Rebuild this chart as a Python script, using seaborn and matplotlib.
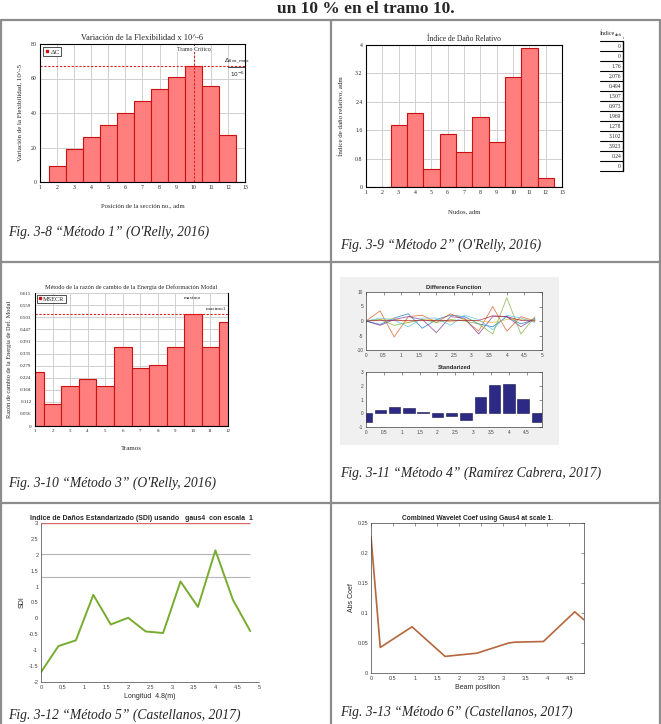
import matplotlib
matplotlib.use("Agg")
import matplotlib.pyplot as plt
import seaborn as sns
import pandas as pd
from matplotlib.lines import Line2D
from matplotlib.patches import Rectangle

# ---------------- data ----------------
flex_pos = [1, 2, 3, 4, 5, 6, 7, 8, 9, 10, 11, 12, 13]
flex_val = [0, 9.5, 19, 26, 33, 40, 47, 54, 61, 67, 55.5, 27, 0]
flex_max = 67
flex_crit = 10

dano_nodes = [1, 2, 3, 4, 5, 6, 7, 8, 9, 10, 11, 12, 13]
dano_val = [0, 0, 1.76, 2.076, 0.494, 1.507, 0.973, 1.969, 1.278, 3.102, 3.923, 0.24, 0]
dano_labels = ["0", "0", "1.76", "2.076", "0.494", "1.507", "0.973", "1.969",
               "1.278", "3.102", "3.923", "0.24", "0"]
dano_yticks = [0, 0.8, 1.6, 2.4, 3.2, 4]

msecr_tramos = [1, 2, 3, 4, 5, 6, 7, 8, 9, 10, 11, 12]
msecr_val = [0.251, 0.102, 0.186, 0.219, 0.186, 0.365, 0.270, 0.281, 0.367, 0.518, 0.367, 0.482]
msecr_yticks = [0, 0.056, 0.112, 0.168, 0.224, 0.279, 0.335, 0.391, 0.447, 0.503, 0.559, 0.615]
msecr_max = 0.518

diff_x = [0, 0.4, 0.8, 1.2, 1.6, 2.0, 2.4, 2.8, 3.2, 3.6, 4.0, 4.4, 4.8]
diff_s1 = [0, -1.2, 1.0, 2.5, -2.5, 0.5, 2.0, 1.5, -1.0, -2.0, 1.5, -1.0, 0.5]
diff_s2 = [0, 3.5, -5.5, 1.5, 2.0, -0.5, 2.5, 0.5, -3.5, 5.0, -3.5, 1.5, 0.0]
diff_s3 = [0, 0.5, 0.8, -0.5, 0.5, 0.3, -0.3, 0.5, 0.0, -0.5, 0.5, 0.5, 0.2]
diff_s4 = [0, -1.5, 0.5, 1.5, 0.5, -4.0, 1.5, 1.0, -4.5, 1.5, 1.5, -2.0, 1.0]
diff_s5 = [0, 0.5, -1.5, -0.5, 0.5, -0.5, 0.5, 0.0, -1.0, -4.5, 8.0, -4.5, 1.5]
diff_s6 = [0, 1.0, 0.3, -2.0, 1.0, 1.0, -1.5, 2.0, 0.5, -3.0, 2.0, 1.0, -0.5]
diff_s7 = [0, 0.2, 0.2, 0.2, 0.2, 0.2, 0.1, 0.2, 0.2, 1.8, 1.5, 0.2, 0.0]

std_x = [0, 0.4, 0.8, 1.2, 1.6, 2.0, 2.4, 2.8, 3.2, 3.6, 4.0, 4.4, 4.8]
std_val = [-0.64, 0.21, 0.48, 0.40, 0.12, -0.26, -0.17, -0.5, 1.19, 2.02, 2.1, 1.02, -0.64]

sdi_x = [0, 0.4, 0.8, 1.2, 1.6, 2.0, 2.4, 2.8, 3.2, 3.6, 4.0, 4.4, 4.8]
sdi_val = [-1.69, -0.87, -0.69, 0.74, -0.19, 0.02, -0.41, -0.46, 1.16, 0.36, 2.14, 0.59, -0.40]
sdi_thresholds = [2.02, 1.30]
sdi_top = 3

wav_x = [0, 0.21, 0.93, 1.68, 2.4, 3.12, 3.27, 3.91, 4.62, 4.83]
wav_val = [0.227, 0.0426, 0.077, 0.0277, 0.033, 0.050, 0.0514, 0.0525, 0.102, 0.0885]

# ---------------- setup ----------------
sns.set_style("white")
SERIF = "Liberation Serif"
SANS = "Liberation Sans"
plt.rcParams["font.family"] = ["Liberation Sans", "DejaVu Sans"]

W, H = 661, 724
fig = plt.figure(figsize=(W / 100, H / 100), dpi=100)
fig.patch.set_facecolor("white")


def rect(x0, y0, x1, y1):
    return [x0 / W, 1 - y1 / H, (x1 - x0) / W, (y1 - y0) / H]


def fx(x):
    return x / W


def fy(y):
    return 1 - y / H


def fline(x0, y0, x1, y1, color="#8c8c8c", lw=1.6):
    fig.add_artist(Line2D([fx(x0), fx(x1)], [fy(y0), fy(y1)], color=color, lw=lw,
                          transform=fig.transFigure))


BAR_FACE = "#ff7f7f"
BAR_EDGE = "#cc1010"


def style_serif(ax, xticks, yticks, ylabels=None, fs=4.2):
    ax.set_xticks(xticks)
    ax.set_yticks(yticks)
    if ylabels is not None:
        ax.set_yticklabels(ylabels)
    ax.tick_params(labelsize=fs, length=0, pad=2.5)
    for lab in ax.get_xticklabels() + ax.get_yticklabels():
        lab.set_fontfamily(SERIF)
    ax.grid(True, color="#cfcfcf", lw=0.7)
    ax.set_axisbelow(True)
    for s in ax.spines.values():
        s.set_color("black")
        s.set_linewidth(0.8)
    ax.set_xlabel("")
    ax.set_ylabel("")


def style_matlab(ax, xticks, yticks, fs=4.0, box=True):
    ax.set_xticks(xticks)
    ax.set_yticks(yticks)
    ax.set_xticklabels([f"{t:g}" for t in xticks])
    ax.set_yticklabels([f"{t:g}" for t in yticks])
    ax.tick_params(labelsize=fs, direction="in", length=2, width=0.4, pad=2,
                   colors="#404040", top=box, right=box)
    for name, s in ax.spines.items():
        s.set_color("#404040")
        s.set_linewidth(0.5)
    if not box:
        ax.spines["top"].set_visible(False)
        ax.spines["right"].set_visible(False)
    ax.set_xlabel("")
    ax.set_ylabel("")


# ---------------- title line & table borders ----------------
fig.text(fx(366), fy(9), "un 10 % en el tramo 10.", fontsize=12.5, fontweight="bold",
         family=SERIF, ha="center", va="center")
fline(1, 20, 660, 20)
fline(1, 20, 1, 724)
fline(660, 20, 660, 724)
fline(331, 20, 331, 724)
fline(1, 262, 660, 262)
fline(1, 503, 660, 503)

# ---------------- chart 1 ----------------
ax1 = fig.add_axes(rect(40, 44, 245, 182))
sns.barplot(x=flex_pos, y=flex_val, native_scale=True, width=1, color=BAR_FACE,
            saturation=1, edgecolor=BAR_EDGE, linewidth=0.8, errorbar=None, ax=ax1)
ax1.set_xlim(1, 13)
ax1.set_ylim(0, 80)
style_serif(ax1, flex_pos, [0, 20, 40, 60, 80])
ax1.axhline(flex_max, color="#e02020", ls=(0, (2, 1.5)), lw=0.8)
ax1.axvline(flex_crit, color="#e02020", ls=(0, (2, 1.5)), lw=0.8)
ax1.text(flex_crit, 78.5, "Tramo Crítico", family=SERIF, fontsize=4.2, ha="center", va="top",
         bbox=dict(facecolor="white", edgecolor="none", pad=0.3))
ax1.text(12.55, flex_max + 1, r"$\Delta_{\mathrm{flex\_max}}$", fontsize=4.5, ha="center", va="bottom",
         family=SERIF)
ax1.plot([12.0, 13.0], [flex_max - 0.3, flex_max - 0.3], color="black", lw=0.5)
ax1.text(12.55, flex_max - 2, r"$10^{-6}$", fontsize=4.2, ha="center", va="top", family=SERIF)
leg = ax1.legend(handles=[Line2D([], [], marker="s", color=BAR_EDGE, ls="none", ms=2)],
                 labels=["ΔC"], loc="upper left", frameon=True, fancybox=False,
                 edgecolor="black", borderpad=0.2, handletextpad=0.2, handlelength=0.6,
                 borderaxespad=0.5, prop={"family": SERIF, "size": 5})
leg.get_frame().set_linewidth(0.6)
ax1.set_title("Variación de la Flexibilidad x 10^-6", family=SERIF, fontsize=6, pad=3)
ax1.set_xlabel("Posición de la sección no., adm", family=SERIF, fontsize=4.8, labelpad=9)
ax1.set_ylabel("Variación de la Flexibilidad, 10^-5", family=SERIF, fontsize=5, labelpad=6)
fig.text(fx(8), fy(232), "Fig. 3-8 “Método 1” (O'Relly, 2016)", family=SERIF, style="italic",
         fontsize=9.8, va="center")

# ---------------- chart 2 ----------------
ax2 = fig.add_axes(rect(366, 45, 562, 187))
sns.barplot(x=dano_nodes, y=dano_val, native_scale=True, width=1, color=BAR_FACE,
            saturation=1, edgecolor=BAR_EDGE, linewidth=0.8, errorbar=None, ax=ax2)
ax2.set_xlim(1, 13)
ax2.set_ylim(0, 4)
style_serif(ax2, dano_nodes, dano_yticks, [f"{t:g}" for t in dano_yticks])
ax2.set_title("Índice de Daño Relativo", family=SERIF, fontsize=5.5, pad=3)
ax2.set_xlabel("Nudos, adm", family=SERIF, fontsize=4.8, labelpad=10)
ax2.set_ylabel("Índice de daño relativo, adm", family=SERIF, fontsize=5, labelpad=8)
# value table
fig.text(fx(600), fy(33), "Índice", family=SERIF, fontsize=4.3, va="center")
fig.text(fx(615), fy(35), "dañ", family=SERIF, fontsize=3.4, va="center")
fig.text(fx(623), fy(38), "i", family=SERIF, fontsize=2.8, va="center")
row_h = 10.0
top_t = 41
for i, lab in enumerate(dano_labels):
    yy = top_t + i * row_h
    fline(600, yy, 623, yy, color="black", lw=0.8)
    fig.text(fx(621), fy(yy + row_h / 2), lab, family=SERIF, fontsize=4.0, ha="right", va="center")
fline(600, top_t + len(dano_labels) * row_h, 623, top_t + len(dano_labels) * row_h, color="black", lw=0.8)
fline(623, top_t, 623, top_t + len(dano_labels) * row_h, color="black", lw=1.0)
fig.text(fx(340), fy(245), "Fig. 3-9 “Método 2” (O'Relly, 2016)", family=SERIF, style="italic",
         fontsize=9.8, va="center")

# ---------------- chart 3 ----------------
ax3 = fig.add_axes(rect(35, 293, 228, 426))
sns.barplot(x=msecr_tramos, y=msecr_val, native_scale=True, width=1, color=BAR_FACE,
            saturation=1, edgecolor=BAR_EDGE, linewidth=0.8, errorbar=None, ax=ax3)
ax3.set_xlim(1, 12)
ax3.set_ylim(0, 0.615)
style_serif(ax3, msecr_tramos, msecr_yticks,
            ["0"] + [f"{t:.3f}" for t in msecr_yticks[1:]], fs=3.6)
ax3.spines["top"].set_visible(False)
ax3.axhline(msecr_max, color="#e02020", ls=(0, (2, 1.5)), lw=0.8)
ax3.text(10.0, 0.60, "maximo", family=SERIF, fontsize=3.8, ha="center", va="top")
ax3.text(11.3, msecr_max + 0.004, r"maximo$_1$", family=SERIF, fontsize=3.8, ha="center", va="bottom")
leg = ax3.legend(handles=[Line2D([], [], marker="s", color=BAR_EDGE, ls="none", ms=2)],
                 labels=["MSECR"], loc="upper left", frameon=True, fancybox=False,
                 edgecolor="black", borderpad=0.2, handletextpad=0.2, handlelength=0.6,
                 borderaxespad=0.3, prop={"family": SERIF, "size": 4.5})
leg.get_frame().set_linewidth(0.6)
ax3.set_title("Método de la razón de cambio de la Energía de Deformación Modal", family=SERIF,
              fontsize=4.5, pad=3)
ax3.set_xlabel("Tramos", family=SERIF, fontsize=5, labelpad=9)
ax3.set_ylabel("Razón de cambio de la Energía de Def. Modal", family=SERIF, fontsize=4.5, labelpad=6)
fig.text(fx(8), fy(483), "Fig. 3-10 “Método 3” (O'Relly, 2016)", family=SERIF, style="italic",
         fontsize=9.8, va="center")

# ---------------- chart 4 ----------------
panel = Rectangle((fx(340), fy(445)), fx(559) - fx(340), fy(277) - fy(445),
                  transform=fig.transFigure, facecolor="#f0f0f0", edgecolor="none", zorder=-5)
fig.patches.append(panel)
ax4a = fig.add_axes(rect(366, 292, 542, 350))
ax4a.set_zorder(2)
diff_df = pd.DataFrame({
    "x": diff_x * 7,
    "y": diff_s1 + diff_s2 + diff_s3 + diff_s4 + diff_s5 + diff_s6 + diff_s7,
    "serie": sum([[k] * len(diff_x) for k in range(7)], []),
})
matlab_cols = ["#0072bd", "#d95319", "#edb120", "#7e2f8e", "#77ac30", "#4dbeee", "#a2142f"]
sns.lineplot(data=diff_df, x="x", y="y", hue="serie", palette=matlab_cols, lw=0.6,
             legend=False, ax=ax4a, alpha=0.75)
ax4a.set_xlim(0, 5)
ax4a.set_ylim(-10, 10)
style_matlab(ax4a, [0, 0.5, 1, 1.5, 2, 2.5, 3, 3.5, 4, 4.5, 5], [-10, -5, 0, 5, 10], fs=3.4)
ax4a.set_title("Difference Function", fontsize=4.2, fontweight="bold", pad=2)

ax4b = fig.add_axes(rect(366, 372, 542, 427))
ax4b.set_zorder(2)
sns.barplot(x=std_x, y=std_val, native_scale=True, width=0.8, color="#2c2a85", saturation=1,
            edgecolor="#15154a", linewidth=0.4, errorbar=None, ax=ax4b)
ax4b.set_xlim(0, 4.93)
ax4b.set_ylim(-1, 3)
style_matlab(ax4b, [0, 0.5, 1, 1.5, 2, 2.5, 3, 3.5, 4, 4.5], [-1, 0, 1, 2, 3], fs=3.4)
ax4b.set_title("Standarized", fontsize=4.2, fontweight="bold", pad=2)
fig.text(fx(340), fy(473), "Fig. 3-11 “Método 4” (Ramírez Cabrera, 2017)", family=SERIF,
         style="italic", fontsize=9.8, va="center")

# ---------------- chart 5 ----------------
ax5 = fig.add_axes(rect(41, 523, 259, 682))
ax5.hlines([sdi_top], sdi_x[0], sdi_x[-1], color="#d46a6a", lw=1.0)
ax5.hlines(sdi_thresholds, sdi_x[0], sdi_x[-1], color="#b5b5b5", lw=0.8)
sns.lineplot(x=sdi_x, y=sdi_val, color="#77ac30", lw=1.4, ax=ax5)
ax5.set_xlim(0, 5)
ax5.set_ylim(-2, 3)
style_matlab(ax5, [0, 0.5, 1, 1.5, 2, 2.5, 3, 3.5, 4, 4.5, 5],
             [-2, -1.5, -1, -0.5, 0, 0.5, 1, 1.5, 2, 2.5, 3], fs=4.0, box=False)
ax5.set_title("Indice de Daños Estandarizado (SDI) usando   gaus4  con escala  1",
              fontsize=5.0, fontweight="bold", pad=2, loc="left", x=-0.05)
ax5.set_xlabel("Longitud  4.8(m)", fontsize=5, color="#262626", labelpad=2)
ax5.set_ylabel("SDI", fontsize=5, color="#262626", labelpad=2)
fig.text(fx(8), fy(715), "Fig. 3-12 “Método 5” (Castellanos, 2017)", family=SERIF,
         style="italic", fontsize=9.8, va="center")

# ---------------- chart 6 ----------------
ax6 = fig.add_axes(rect(371, 523, 584, 673))
sns.lineplot(x=wav_x, y=wav_val, color="#b5663c", lw=1.2, ax=ax6)
ax6.set_xlim(0, 4.83)
ax6.set_ylim(0, 0.25)
style_matlab(ax6, [0, 0.5, 1, 1.5, 2, 2.5, 3, 3.5, 4, 4.5],
             [0, 0.05, 0.1, 0.15, 0.2, 0.25], fs=4.0, box=True)
ax6.set_title("Combined Wavelet Coef using Gaus4 at scale 1.", fontsize=4.8,
              fontweight="bold", pad=2)
ax6.set_xlabel("Beam position", fontsize=5, color="#262626", labelpad=2)
ax6.set_ylabel("Abs Coef", fontsize=5, color="#262626", labelpad=2)
fig.text(fx(340), fy(712), "Fig. 3-13 “Método 6” (Castellanos, 2017)", family=SERIF,
         style="italic", fontsize=9.8, va="center")

fig.savefig("out.png", dpi=100, facecolor="white")
